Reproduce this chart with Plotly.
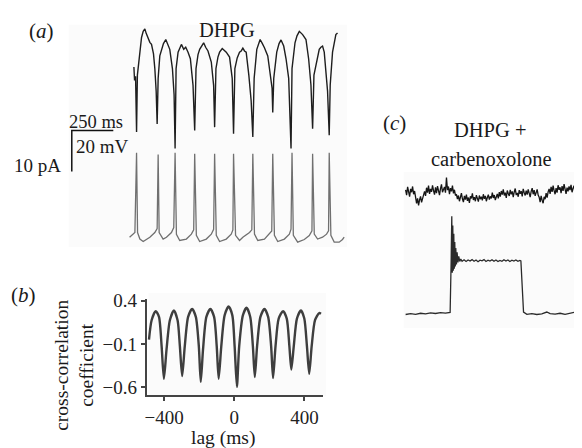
import plotly.graph_objects as go

# The page body has an 8 px margin; the figure is sized to fill the rest of the 582x448 window.
OFF = 8
W, H = 582 - OFF, 448 - OFF
FONT = "Liberation Serif"

# ---------------- Panel (a): DHPG paired recording ----------------
# current trace (pA) vs time (ms)
a_cur_t = [14, 18, 24, 30, 35, 50, 60, 70, 80, 88, 100, 110, 120, 132, 140, 148, 154, 160, 170, 180, 192, 206,
           218, 230, 246, 256, 262, 268, 280, 300, 314, 326, 340, 354, 370, 380, 388, 400, 410, 422, 434, 446,
           460, 480, 494, 500, 508, 520, 530, 546, 558, 570, 590, 606, 614, 622, 636, 650, 660, 670, 680, 690,
           706, 720, 730, 738, 754, 764, 774, 786, 800, 820, 836, 846, 850, 856, 874, 888, 900, 916, 930, 946,
           960, 966, 984, 996, 1010, 1020, 1030, 1050, 1066, 1080, 1090, 1098, 1114, 1130, 1140, 1150, 1160,
           1170, 1180, 1190, 1196, 1210, 1220, 1230, 1240]
a_cur_pa = [-7.2, -10.5, -9.5, -23.1, -9.2, -3.6, 0.0, 1.5, 2.1, 1.0, -0.5, -1.2, -1.7, -4.0, -7.6, -13.1, -21.1,
            -10.0, -4.5, -2.9, -1.5, -0.5, -1.6, -2.9, -7.6, -14.0, -27.1, -7.6, -3.6, -1.7, -2.9, -2.4, -3.6,
            -5.2, -11.7, -22.7, -7.6, -4.2, -2.9, -1.9, -1.3, -2.4, -3.3, -6.0, -11.7, -21.9, -7.6, -4.8, -3.6,
            -2.7, -3.1, -3.6, -4.8, -10.0, -23.5, -7.6, -5.0, -3.6, -3.3, -2.6, -3.3, -3.6, -9.2, -15.5, -24.3,
            -10.0, -2.9, -1.5, -0.5, -1.4, -2.5, -4.5, -10.0, -12.4, -18.3, -10.0, -3.6, -1.5, -0.6, -2.1, -5.2,
            -10.0, -27.1, -7.6, -1.3, 0.4, 1.5, 1.1, 0.7, -0.5, -5.2, -11.6, -22.3, -9.2, -6.0, -2.9, -2.4, -2.1,
            -3.6, -7.6, -13.1, -23.9, -11.6, -3.6, -0.9, 0.7, 1.1]

# membrane potential trace (mV) vs time (ms)
a_vm_t = [-12, 20, 30, 36, 50, 70, 110, 140, 154, 160, 166, 190, 210, 240, 254, 262, 270, 290, 330, 360, 374,
          380, 390, 410, 450, 480, 494, 500, 510, 530, 570, 600, 610, 614, 626, 650, 670, 710, 724, 730, 740,
          760, 800, 830, 844, 850, 860, 880, 920, 950, 960, 966, 974, 1000, 1040, 1070, 1086, 1090, 1100, 1120,
          1150, 1174, 1186, 1190, 1200, 1220, 1250, 1270, 1280]
a_vm_mv = [-59.0, -56.7, -17.8, -56.7, -59.9, -61.1, -59.0, -56.7, -54.8, -18.6, -56.7, -59.9, -59.0, -56.7,
           -54.3, -17.8, -57.6, -60.6, -59.9, -57.5, -55.4, -18.2, -58.1, -61.1, -59.9, -57.5, -55.1, -18.2,
           -58.1, -61.1, -59.9, -57.5, -55.4, -18.2, -58.1, -60.6, -59.0, -56.7, -55.4, -18.2, -57.5, -60.6,
           -59.9, -57.5, -55.9, -18.2, -58.1, -61.1, -59.9, -57.5, -55.1, -17.8, -58.1, -61.4, -60.1, -58.2,
           -55.9, -18.2, -57.5, -59.9, -59.0, -57.5, -55.9, -17.8, -58.1, -61.4, -61.4, -60.1, -59.0]

scale_time_ms = 250
scale_volt_mv = 20
scale_curr_pa = 10

# ---------------- Panel (b): cross-correlation ----------------
b_lag = [-486, -471, -448, -429, -414, -401, -386, -367, -344, -323, -310, -297, -282, -263, -240, -219, -202,
         -191, -178, -159, -136, -115, -100, -89, -74, -55, -32, -11, 2, 15, 28, 49, 70, 91, 106, 117, 130, 149,
         172, 193, 210, 221, 235, 253, 278, 299, 314, 325, 339, 357, 380, 399, 414, 427, 441, 460, 484, 494]
b_coef = [-0.049, 0.175, 0.28, 0.213, -0.124, -0.499, -0.162, 0.175, 0.288, 0.175, -0.124, -0.469, -0.124,
          0.213, 0.306, 0.213, -0.124, -0.536, -0.162, 0.213, 0.306, 0.213, -0.124, -0.499, -0.124, 0.231,
          0.333, 0.231, -0.124, -0.592, -0.124, 0.231, 0.318, 0.213, -0.124, -0.48, -0.124, 0.213, 0.306,
          0.213, -0.124, -0.491, -0.124, 0.194, 0.28, 0.194, -0.124, -0.394, -0.124, 0.194, 0.288, 0.194,
          -0.124, -0.443, -0.124, 0.175, 0.258, 0.25]
b_xticks = [-400, 0, 400]
b_yticks = [-0.6, -0.1, 0.4]
b_yticklabels = ["\u22120.6", "\u22120.1", "0.4"]

# ---------------- Panel (c): DHPG + carbenoxolone ----------------
c_noise_dt = 6
c_noise_pa = [0.9, -0.4, 1.6, 0.2, -0.8, 1.1, 0.3, 1.7, -0.2, 0.6,
              -1.0, -2.4, -1.2, -2.9, -1.6, -0.7, -2.2, -1.1, -0.3,
              0.5, -0.6, 1.4, 0.2, 1.9, -0.1, 1.1, 0.4, 2.0, 0.7, -0.3, 1.5, 0.1, 1.8, 0.9, -0.4, 1.2, 2.2, 0.3,
              1.0, 1.6, 0.2, 3.9, 0.8, 1.7, -0.2, 1.3, 0.5, 1.9, 0.0, 0.9, -0.5,
              -0.2, -1.4, -0.5, -1.9, -0.8, 0.1, -1.3, -2.1, -0.6, -1.5, -0.3, -1.8, -1.0, -2.3, -0.7, -1.2, 0.0,
              -1.6, -0.9, -1.9, -0.4, -1.1, -2.0, -0.5, -1.4, -0.8, -1.7, -0.2, -1.3, -0.6, -1.9, -1.0, -0.3,
              -1.5, -0.7, -1.2, 0.2, -1.1, -0.4, -1.6, -0.6, -0.1, -1.2,
              0.3, -0.8, 0.6, -0.3, 1.0, -0.5, 0.2, -1.1, 0.7, 0.0, -0.6, 0.9, -0.2, 0.5, -0.9, 0.4, 1.2, -0.4,
              0.1, -0.8, 0.8, -0.1, 0.6, -0.7, 1.1, 0.2, -0.5, 0.7, -0.3, 1.0, 0.0, -0.9, 0.5, 1.3, -0.2, 0.8,
              -0.6, 0.4, 1.0, -0.4,
              -0.9, -2.1, -0.6, -1.7, -2.4, -0.8, -1.4, 0.1, -1.0, 0.4,
              1.1, -0.1, 1.6, 0.4, 1.9, 0.7, -0.2, 1.3, 0.2, 2.0, 0.9, 1.5, 0.1, 1.8, 0.6, 2.3, 1.0, -0.1, 1.4,
              0.5, 1.7, 0.8, 2.1, 0.3, 1.2, 1.9, 0.6, 2.4, 1.1, 0.4, 1.6, 2.2, 0.9, 1.5]
c_noise_t = [i * c_noise_dt for i in range(len(c_noise_pa))]

c_step_t = [0, 30, 60, 90, 120, 150, 180, 210, 240, 268, 274, 278, 281, 284, 287, 290, 293, 296, 299, 302, 306,
            310, 315, 320, 326, 332, 340, 352, 364, 376, 388, 400, 412, 424, 436, 448, 460, 472, 484, 496, 508,
            520, 532, 544, 556, 568, 580, 592, 604, 616, 628, 640, 652, 664, 676, 688, 694, 700, 710, 730, 760,
            790, 820, 850, 870, 900, 930, 960, 990, 1020, 1040, 1062]
c_step_mv = [-65.4, -65.0, -65.3, -64.8, -65.1, -64.6, -64.9, -64.5, -64.7, -64.4, -40.0, -17.4, -45.0, -22.0,
             -44.0, -26.0, -43.0, -30.0, -42.0, -33.0, -41.0, -35.0, -40.0, -37.0, -39.5, -38.3, -39.4, -38.7,
             -39.5, -38.8, -39.3, -38.6, -39.4, -38.8, -39.6, -38.9, -39.2, -38.6, -39.5, -38.9, -39.3, -38.7,
             -39.4, -38.8, -39.5, -39.0, -39.4, -38.7, -39.3, -38.8, -39.5, -38.9, -39.3, -38.8, -39.4, -39.0,
             -39.2, -52.0, -64.2, -65.3, -65.0, -65.4, -65.1, -64.2, -65.0, -65.2, -64.8, -65.3, -64.9, -64.3,
             -65.1, -64.8]


def dx(px):
    return (px - OFF) / W


def dy(py):
    return 1 - (py - OFF) / H


fig = go.Figure()

# panel a traces
fig.add_trace(go.Scatter(x=a_cur_t, y=a_cur_pa, mode="lines", xaxis="x", yaxis="y",
                         line=dict(color="#1e1e1e", width=1.4)))
fig.add_trace(go.Scatter(x=a_vm_t, y=a_vm_mv, mode="lines", xaxis="x", yaxis="y2",
                         line=dict(color="#707070", width=1.3)))
# scale bars (time + voltage) placed left of the traces
sb_t0, sb_v0 = -360, -26.9
fig.add_trace(go.Scatter(x=[sb_t0 + scale_time_ms, sb_t0, sb_t0],
                         y=[sb_v0 + scale_volt_mv, sb_v0 + scale_volt_mv, sb_v0],
                         mode="lines", xaxis="x", yaxis="y2",
                         line=dict(color="#111", width=1.5)))

# panel b
fig.add_trace(go.Scatter(x=b_lag, y=b_coef, mode="lines", xaxis="x2", yaxis="y3",
                         line=dict(color="#3e3e3e", width=2.4, shape="spline", smoothing=0.7)))

# panel c
fig.add_trace(go.Scatter(x=c_noise_t, y=c_noise_pa, mode="lines", xaxis="x3", yaxis="y5",
                         line=dict(color="#151515", width=1.3)))
fig.add_trace(go.Scatter(x=c_step_t, y=c_step_mv, mode="lines", xaxis="x3", yaxis="y4",
                         line=dict(color="#2a2a2a", width=1.3)))

hidden = dict(visible=False, fixedrange=True)
tickfont = dict(family=FONT, size=19, color="#222")
fig.update_layout(
    width=W, height=H, margin=dict(l=0, r=0, t=0, b=0),
    paper_bgcolor="white", plot_bgcolor="rgba(0,0,0,0)", showlegend=False,
    xaxis=dict(domain=[dx(60), dx(350)], range=[-420, 1320], anchor="y", **hidden),
    yaxis=dict(domain=[dy(150), dy(12)], range=[-28.571, 4.286], anchor="x", **hidden),
    yaxis2=dict(domain=[dy(250), dy(100)], range=[-66.19, 5.238], anchor="x", **hidden),
    xaxis2=dict(domain=[dx(145), dx(322)], range=[-500, 505], anchor="y3",
                showline=True, linecolor="#444", linewidth=1.5, showgrid=False, zeroline=False,
                ticks="outside", ticklen=4, tickwidth=1.5, tickcolor="#444",
                tickvals=b_xticks, tickfont=tickfont),
    yaxis3=dict(domain=[dy(397), dy(298)], range=[-0.69, 0.4225], anchor="x2",
                showline=True, linecolor="#444", linewidth=1.5, showgrid=False, zeroline=False,
                ticks="outside", ticklen=4, tickwidth=1.5, tickcolor="#444",
                tickvals=b_yticks, ticktext=b_yticklabels, tickfont=tickfont),
    xaxis3=dict(domain=[dx(400), 1], range=[-30, 1062], anchor="y4", **hidden),
    yaxis4=dict(domain=[dy(330), dy(200)], range=[-72.95, -11.05], anchor="x3", **hidden),
    yaxis5=dict(domain=[dy(215), dy(165)], range=[-5.952, 5.952], anchor="x3", **hidden),
)

# very faint grey backgrounds of the original photographed panels
for x0, y0, x1, y1 in [(67, 17, 346, 245), (147, 292, 325, 398), (403, 168, 582, 328)]:
    fig.add_shape(type="rect", xref="paper", yref="paper", x0=dx(x0), x1=dx(x1), y0=dy(y1), y1=dy(y0),
                  fillcolor="#fbfbfb", line=dict(width=0), layer="below")

texts = [
    ("(<i>a</i>)", 40, 23, 0, 21),
    ("DHPG", 226, 22, 0, 20.5),
    (f"{scale_time_ms} ms", 94, 117, 0, 18.5),
    (f"{scale_volt_mv} mV", 101, 142, 0, 19),
    (f"{scale_curr_pa} pA", 36, 161, 0, 19),
    ("(<i>b</i>)", 22, 294, 0, 21),
    ("cross-correlation<br>coefficient", 72, 366, -90, 19.5),
    ("lag (ms)", 222, 441, 0, 19.5),
    ("(<i>c</i>)", 394, 118, 0, 21),
    ("DHPG +", 490, 125, 0, 20.5),
    ("carbenoxolone", 491, 155, 0, 20.5),
]
for t, x, y, ang, size in texts:
    fig.add_annotation(text=t, x=dx(x), y=dy(y), xref="paper", yref="paper",
                       xanchor="center", yanchor="middle", showarrow=False, textangle=ang,
                       font=dict(family=FONT, size=size, color="#1a1a1a"))

fig.write_html("out.html")
